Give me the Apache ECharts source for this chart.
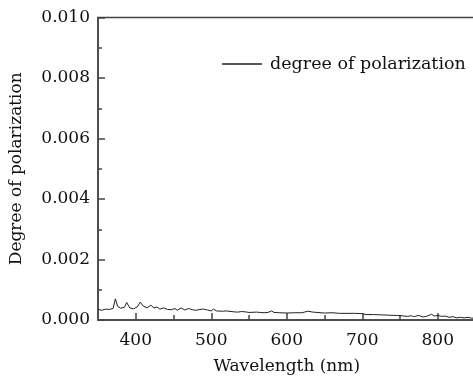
<!DOCTYPE html>
<html><head><meta charset="utf-8">
<script src="https://cdn.jsdelivr.net/npm/echarts@6/dist/echarts.min.js"></script>
<style>html,body{margin:0;padding:0;background:#fff}#c{width:473px;height:379px}</style>
</head><body><div id="c"></div>
<script>
// Wavelength (nm)
const wavelengths = [350,355,360,365,370,373,376,380,385,388,392,397,402,406,410,415,420,424,428,432,437,442,447,452,455,460,465,470,475,480,485,490,495,500,503,507,515,520,530,535,540,545,550,560,565,570,575,580,583,590,600,610,620,628,635,640,650,660,670,680,690,700,705,715,725,735,745,750,755,760,765,768,775,780,785,792,795,800,805,810,815,820,825,830,835,840,845,850];
// Degree of polarization
const polarization = [0.00035,0.00032,0.00036,0.00035,0.00038,0.00070,0.00045,0.00039,0.00042,0.00058,0.00040,0.00037,0.00043,0.00059,0.00046,0.00040,0.00049,0.00040,0.00043,0.00036,0.00040,0.00035,0.00034,0.00038,0.00032,0.00040,0.00033,0.00038,0.00034,0.00032,0.00035,0.00036,0.00033,0.00030,0.00036,0.00030,0.00029,0.00030,0.00027,0.00026,0.00028,0.00027,0.00025,0.00026,0.00025,0.00024,0.00025,0.00030,0.00025,0.00024,0.00023,0.00024,0.00024,0.00029,0.00026,0.00025,0.00023,0.00024,0.00022,0.00022,0.00022,0.00021,0.00018,0.00018,0.00017,0.00016,0.00015,0.00015,0.00013,0.00012,0.00014,0.00011,0.00015,0.00010,0.00012,0.00019,0.00013,0.00015,0.00012,0.00013,0.00009,0.00011,0.00007,0.00009,0.00007,0.00009,0.00006,0.00007];
const xMajor = [400,500,600,700,800];
const xMinor = [450,550,650,750,850];
const yTicks = [0,0.002,0.004,0.006,0.008,0.010];

const FONT = 'DejaVu Serif';
const AX = '#444';
const TXT = '#111';
const chart = echarts.init(document.getElementById('c'));
chart.setOption({
  animation:false,
  grid:{left:98,top:17.5,right:-2.5,bottom:59,outerBoundsMode:'none',containLabel:false,show:true,borderColor:AX,borderWidth:1.5,backgroundColor:'transparent'},
  legend:{show:true,left:222,top:55,padding:0,icon:'rect',itemWidth:40,itemHeight:1.5,
    textStyle:{fontFamily:FONT,fontSize:17.5,color:TXT,padding:[0,0,0,3]},data:['degree of polarization']},
  xAxis:[{
    type:'value',min:350,max:850,name:'Wavelength (nm)',nameLocation:'middle',nameGap:38,
    nameTextStyle:{fontFamily:FONT,fontSize:17,color:TXT},
    axisLine:{show:true,lineStyle:{color:AX,width:1.5}},
    axisTick:{show:true,inside:true,length:7,customValues:xMajor,lineStyle:{color:AX,width:1.5}},
    axisLabel:{customValues:xMajor,fontFamily:FONT,fontSize:17,color:TXT,margin:12},
    splitLine:{show:false}
  },{
    type:'value',min:350,max:850,position:'bottom',
    axisLine:{show:false},
    axisTick:{show:true,inside:true,length:5,customValues:xMinor,lineStyle:{color:AX,width:1.5}},
    axisLabel:{show:false},splitLine:{show:false}
  }],
  yAxis:{
    type:'value',min:0,max:0.01,interval:0.002,name:'Degree of polarization',nameLocation:'middle',nameGap:73,
    nameTextStyle:{fontFamily:FONT,fontSize:17,color:TXT},
    axisLine:{show:true,lineStyle:{color:AX,width:1.5}},
    axisTick:{show:true,inside:true,length:7,lineStyle:{color:AX,width:1.5}},
    minorTick:{show:true,splitNumber:2,length:4,lineStyle:{color:AX,width:1.5}},
    axisLabel:{fontFamily:FONT,fontSize:17,color:TXT,margin:8,formatter:v=>v.toFixed(3)},
    splitLine:{show:false}
  },
  series:[{
    name:'degree of polarization',type:'line',xAxisIndex:0,symbol:'none',
    data:wavelengths.map((w,i)=>[w,polarization[i]]),
    lineStyle:{color:'#222',width:1},itemStyle:{color:'#222'}
  }]
});
</script></body></html>
